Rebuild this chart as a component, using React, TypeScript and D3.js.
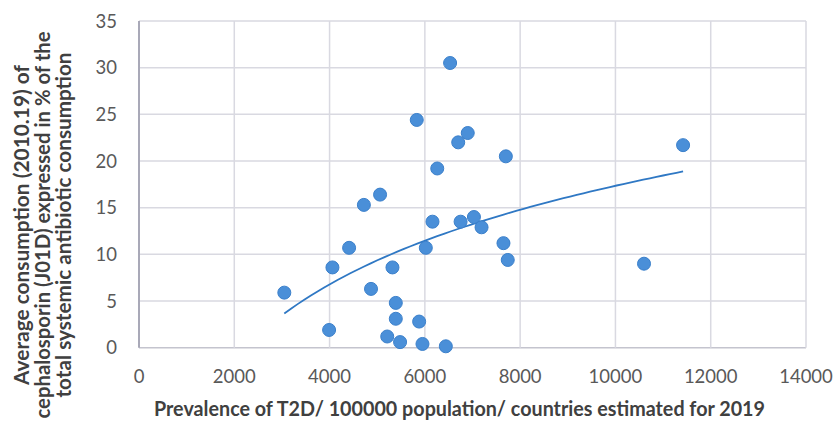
import React from 'react';
import * as d3 from 'd3';

// Prevalence of T2D per 100000 (x) vs cephalosporin share of consumption in % (y)
const prevalence = [
  6530, 5830, 6900, 6700, 6260, 11420, 7700, 5060, 4720, 6160,
  6750, 7030, 7190, 7650, 7740, 10600, 4410, 6020, 4060, 5320,
  3050, 4870, 5390, 5390, 5880, 3990, 5210, 5480, 5950, 6440,
];
const consumption = [
  30.5, 24.4, 23.0, 22.0, 19.2, 21.7, 20.5, 16.4, 15.3, 13.5,
  13.5, 14.0, 12.9, 11.2, 9.4, 9.0, 10.7, 10.7, 8.6, 8.6,
  5.9, 6.3, 4.8, 3.1, 2.8, 1.9, 1.2, 0.6, 0.4, 0.15,
];
const xTicks = [0, 2000, 4000, 6000, 8000, 10000, 12000, 14000];
const yTicks = [0, 5, 10, 15, 20, 25, 30, 35];
const yTitleLines = [
  'Average consumption (2010.19)  of',
  'cephalosporin (J01D) expressed in % of the',
  'total systemic antibiotic consumption',
];
const xTitle = 'Prevalence of T2D/ 100000 population/ countries estimated for 2019';

const W = 835;
const H = 422;
const FONT = 'Lato, "Open Sans", sans-serif';

// logarithmic trendline y = a*ln(x) + b (least squares, like Excel)
function logFit(xs: number[], ys: number[]) {
  const lx = xs.map(Math.log);
  const mx = d3.mean(lx)!;
  const my = d3.mean(ys)!;
  let sxy = 0, sxx = 0;
  lx.forEach((v, i) => {
    sxy += (v - mx) * (ys[i] - my);
    sxx += (v - mx) * (v - mx);
  });
  const a = sxy / sxx;
  const b = my - a * mx;
  return (x: number) => a * Math.log(x) + b;
}

export default function App() {
  const x = d3.scaleLinear().domain([0, 14000]).range([139, 806]);
  const y = d3.scaleLinear().domain([0, 35]).range([347.7, 21]);

  const points = prevalence.map((p, i) => ({ x: p, y: consumption[i] }));
  const fit = logFit(prevalence, consumption);
  const [xmin, xmax] = d3.extent(prevalence) as [number, number];
  const trend = d3.range(0, 61).map(i => {
    const xv = xmin + (xmax - xmin) * i / 60;
    return [xv, fit(xv)] as [number, number];
  });
  const line = d3.line<[number, number]>().x(d => x(d[0])).y(d => y(d[1]));

  const yTitleLens = [320, 387, 345];

  return (
    <svg width={W} height={H} style={{ position: 'absolute', left: 0, top: 0, background: '#fff' }}>
      {/* gridlines */}
      {yTicks.map(t => (
        <line key={'gy' + t} x1={x(0)} x2={x(14000)} y1={y(t)} y2={y(t)}
          stroke={t === 0 ? '#c4c4ce' : '#d9d9e1'} strokeWidth={1.5} />
      ))}
      {xTicks.map(t => (
        <line key={'gx' + t} x1={x(t)} x2={x(t)} y1={y(0)} y2={y(35)}
          stroke={t === 0 ? '#a9a9b8' : '#d9d9e1'} strokeWidth={t === 0 ? 2 : 1.5} />
      ))}

      {/* tick labels */}
      {xTicks.map(t => (
        <text key={'tx' + t} x={x(t)} y={383} textAnchor="middle"
          fontFamily={FONT} fontSize={18.5} fill="#595959">{t}</text>
      ))}
      {yTicks.map(t => (
        <text key={'ty' + t} x={117} y={y(t) + 6.5} textAnchor="end"
          fontFamily={FONT} fontSize={18.5} fill="#595959">{t}</text>
      ))}

      {/* trendline */}
      <path d={line(trend) || ''} fill="none" stroke="#2f78c4" strokeWidth={1.8} />

      {/* points */}
      {points.map((d, i) => (
        <circle key={i} cx={x(d.x)} cy={y(d.y)} r={6.5}
          fill="#4a8fd8" stroke="#3b80cb" strokeWidth={1} />
      ))}

      {/* axis titles */}
      <text x={459.5} y={416} textAnchor="middle" fontFamily={FONT} fontWeight="bold"
        fontSize={20} fill="#404040" textLength={611} lengthAdjust="spacingAndGlyphs">{xTitle}</text>
      {yTitleLines.map((s, i) => (
        <text key={'yt' + i} transform={`translate(${29 + i * 21},225) rotate(-90)`}
          textAnchor="middle" fontFamily={FONT} fontWeight="bold" fontSize={20} fill="#404040"
          textLength={yTitleLens[i]} lengthAdjust="spacingAndGlyphs">{s}</text>
      ))}
    </svg>
  );
}
